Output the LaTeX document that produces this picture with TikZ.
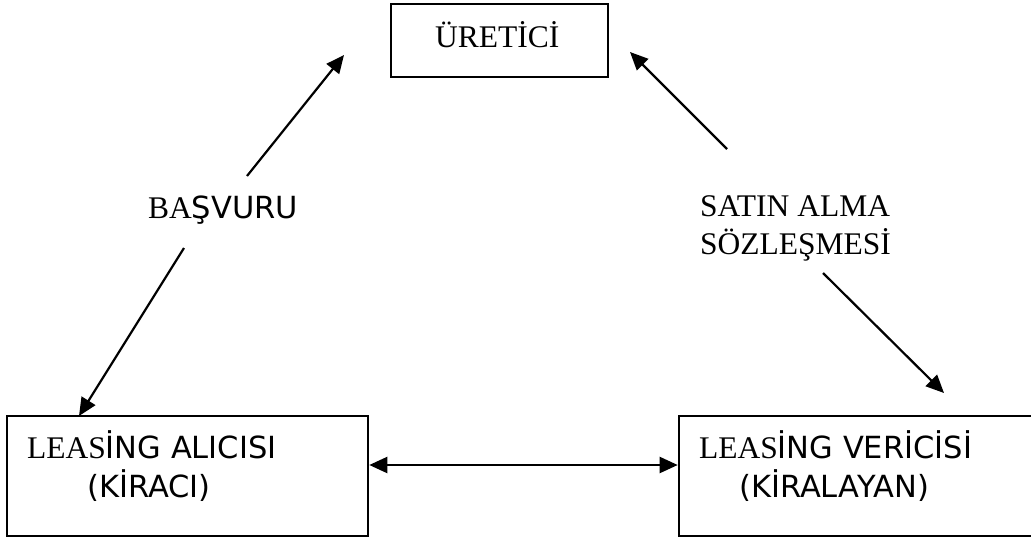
\documentclass[tikz,border=0pt]{standalone}
\usepackage{fontspec}
\setmainfont{Liberation Serif}
\newfontfamily\sansf{DejaVu Sans}
\usetikzlibrary{arrows.meta}
\newcommand\sanspart[1]{{\sansf\fontsize{30.5}{37}\selectfont #1}}
\tikzset{
  boxshape/.style={draw, line width=2.6pt, rectangle, inner sep=0pt},
  lbl/.style={anchor=base west, inner sep=0pt, font=\fontsize{31.5}{38}\selectfont},
  tip/.tip={Triangle[length=18pt,width=16pt]},
  arr/.style={line width=2.2pt, -tip},
  arrboth/.style={line width=2.2pt, tip-tip}
}
\begin{document}
\begin{tikzpicture}[x=1pt,y=-1pt]
\clip (0,0) rectangle (1031,541);
\fill[white] (0,0) rectangle (1031,541);
% boxes
\node[boxshape, minimum width=217pt, minimum height=73pt] (ur) at (499.5,40.5) {};
\node[boxshape, minimum width=361pt, minimum height=120pt] (lb) at (187.5,476) {};
\node[boxshape, minimum width=361pt, minimum height=120pt] (vb) at (859.5,476) {};
% texts
\node[lbl] (urt) at (435,47) {ÜRETİCİ};
\node[lbl] (lbt1) at (27,458) {LEAS\sanspart{İNG ALICISI}};
\node[lbl] (lbt2) at (87,497) {\sanspart{(KİRACI)}};
\node[lbl] (vbt1) at (699,458) {LEAS\sanspart{İNG VERİCİSİ}};
\node[lbl] (vbt2) at (739,497) {\sanspart{(KİRALAYAN)}};
\node[lbl] (bas) at (148,218) {BA\sanspart{ŞVURU}};
\node[lbl] (sat1) at (700,216) {SATIN ALMA};
\node[lbl] (sat2) at (700,254) {SÖZLEŞMESİ};
% arrow ends
\coordinate (a1s) at (247,176);
\coordinate (a1e) at (344,55);
\coordinate (a2s) at (184,248);
\coordinate (a2e) at (79,416);
\coordinate (a3s) at (727,149);
\coordinate (a3e) at (630,52);
\coordinate (a4s) at (823,273);
\coordinate (a4e) at (944,393);
\coordinate (hl) at (lb.east |- 0,465);
\coordinate (hr) at (vb.west |- 0,465);
\draw[arr] (a1s) -- (a1e);
\draw[arr] (a2s) -- (a2e);
\draw[arr] (a3s) -- (a3e);
\draw[arr] (a4s) -- (a4e);
\draw[arrboth] (hl) -- (hr);
\end{tikzpicture}
\end{document}
